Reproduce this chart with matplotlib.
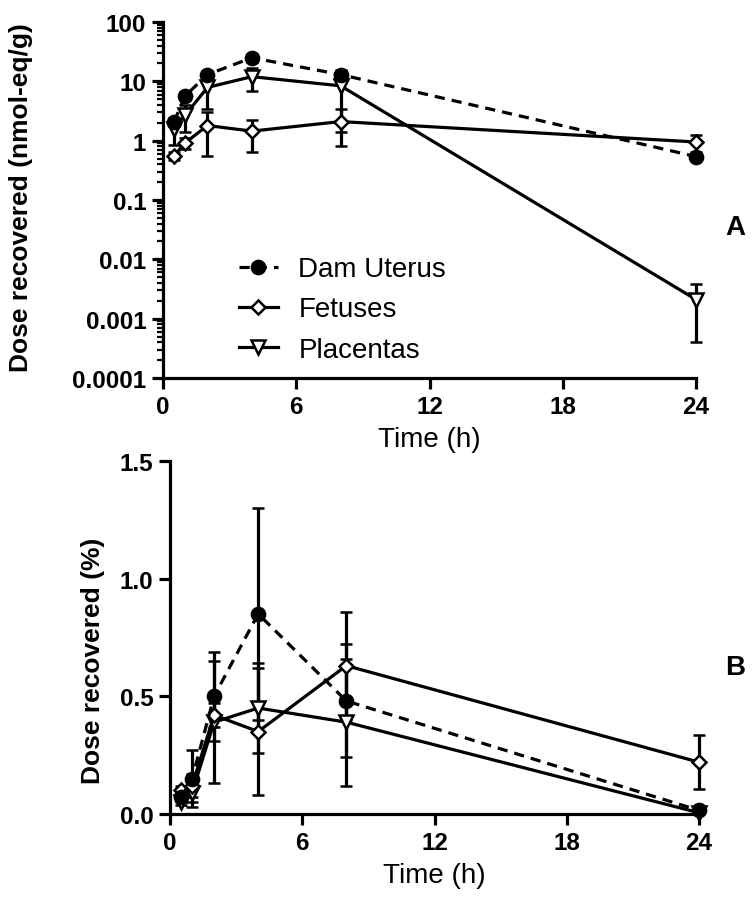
import numpy as np
import matplotlib
matplotlib.use('Agg')
import matplotlib.pyplot as plt
from matplotlib.lines import Line2D
from matplotlib.ticker import LogLocator, FixedLocator, FuncFormatter

plt.rcParams['font.family'] = ['Liberation Sans', 'DejaVu Sans']

# --- data ---
times = [0.5, 1, 2, 4, 8, 24]

# panel A: tissue concentration (nmol-eq/g)
uterus_conc = [2.1, 5.7, 13, 25, 13, 0.54]
uterus_conc_sd = [0.3, 0.8, 2.0, 4.0, 2.0, 0.06]
fetus_conc = [0.56, 0.92, 1.8, 1.45, 2.1, 0.95]
fetus_conc_sd = [0.08, 0.2, 1.25, 0.8, 1.3, 0.3]
placenta_conc = [1.6, 2.7, 7.9, 12, 8.4, 0.0021]
placenta_conc_sd = [0.75, 1.3, 4.5, 5.0, 7.0, 0.0017]

# panel B: % of dose
uterus_pct = [0.07, 0.15, 0.50, 0.85, 0.48, 0.015]
uterus_pct_sd = [0.02, 0.12, 0.19, 0.45, 0.24, 0.005]
fetus_pct = [0.10, 0.12, 0.42, 0.35, 0.63, 0.22]
fetus_pct_sd = [0.02, 0.05, 0.05, 0.27, 0.23, 0.115]
placenta_pct = [0.05, 0.09, 0.39, 0.45, 0.39, 0.005]
placenta_pct_sd = [0.01, 0.04, 0.26, 0.19, 0.27, 0.003]

x_ticks = [0, 6, 12, 18, 24]
series_names = ['Dam Uterus', 'Fetuses', 'Placentas']

LW = 2.3
styles = {
    'Dam Uterus': dict(marker='o', ms=9.5, mfc='black', ls=(0, (3.2, 2.2))),
    'Fetuses': dict(marker='D', ms=7.5, mfc='white', ls='-'),
    'Placentas': dict(marker='v', ms=10.5, mfc='white', ls='-'),
}


def draw(ax, y, sd, name):
    st = styles[name]
    ax.errorbar(times, y, yerr=sd, color='black', lw=LW, ls=st['ls'],
                marker=st['marker'], ms=st['ms'], mfc=st['mfc'], mec='black',
                mew=1.8, ecolor='black', elinewidth=LW, capsize=4.5,
                capthick=LW, clip_on=False, zorder=3)


def style_axis(ax):
    for s in ['top', 'right']:
        ax.spines[s].set_visible(False)
    for s in ['left', 'bottom']:
        ax.spines[s].set_linewidth(2.3)
    ax.tick_params(axis='both', which='major', direction='out', length=8,
                   width=2.3, labelsize=17.5, pad=4)
    ax.tick_params(axis='both', which='minor', direction='out', length=4.5,
                   width=1.6)
    ax.set_xlim(0, 24)
    ax.xaxis.set_major_locator(FixedLocator(x_ticks))
    ax.set_xticklabels([str(t) for t in x_ticks], fontweight='bold')
    ax.set_xlabel('Time (h)', fontsize=20, labelpad=6)


fig = plt.figure(figsize=(7.54, 9.03), dpi=100)

# --- panel A ---
axA = fig.add_axes([0.2162, 0.5803, 0.7069, 0.3942])
draw(axA, placenta_conc, placenta_conc_sd, 'Placentas')
draw(axA, fetus_conc, fetus_conc_sd, 'Fetuses')
draw(axA, uterus_conc, uterus_conc_sd, 'Dam Uterus')
axA.set_yscale('log')
axA.set_ylim(1e-4, 100)
axA.yaxis.set_major_locator(LogLocator(base=10, numticks=10))
axA.yaxis.set_minor_locator(LogLocator(base=10, subs=np.arange(2, 10), numticks=20))
axA.yaxis.set_major_formatter(FuncFormatter(lambda v, p: f'{v:g}'))
style_axis(axA)
for lab in axA.get_yticklabels():
    lab.set_fontweight('bold')

handles = [Line2D([], [], color='black', lw=LW, ls=styles[n]['ls'],
                  marker=styles[n]['marker'], ms=styles[n]['ms'],
                  mfc=styles[n]['mfc'], mec='black', mew=1.8)
           for n in series_names]
axA.legend(handles, series_names, loc='lower left', bbox_to_anchor=(0.095, -0.027),
           frameon=False, fontsize=20, handlelength=1.4, handletextpad=0.75,
           labelspacing=0.51)

# --- panel B ---
axB = fig.add_axes([0.2255, 0.0975, 0.7016, 0.391])
draw(axB, placenta_pct, placenta_pct_sd, 'Placentas')
draw(axB, fetus_pct, fetus_pct_sd, 'Fetuses')
draw(axB, uterus_pct, uterus_pct_sd, 'Dam Uterus')
axB.set_ylim(0, 1.5)
axB.yaxis.set_major_locator(FixedLocator([0, 0.5, 1.0, 1.5]))
axB.yaxis.set_major_formatter(FuncFormatter(lambda v, p: f'{v:.1f}'))
style_axis(axB)
for lab in axB.get_yticklabels():
    lab.set_fontweight('bold')

# y labels and panel letters
fig.text(0.028, 0.781, 'Dose recovered (nmol-eq/g)', rotation=90, ha='center',
         va='center', fontsize=19, fontweight='bold')
fig.text(0.123, 0.268, 'Dose recovered (%)', rotation=90, ha='center',
         va='center', fontsize=19, fontweight='bold')
fig.text(0.975, 0.748, 'A', ha='center', va='center', fontsize=20, fontweight='bold')
fig.text(0.975, 0.26, 'B', ha='center', va='center', fontsize=20, fontweight='bold')

fig.savefig('out.png', dpi=100)
